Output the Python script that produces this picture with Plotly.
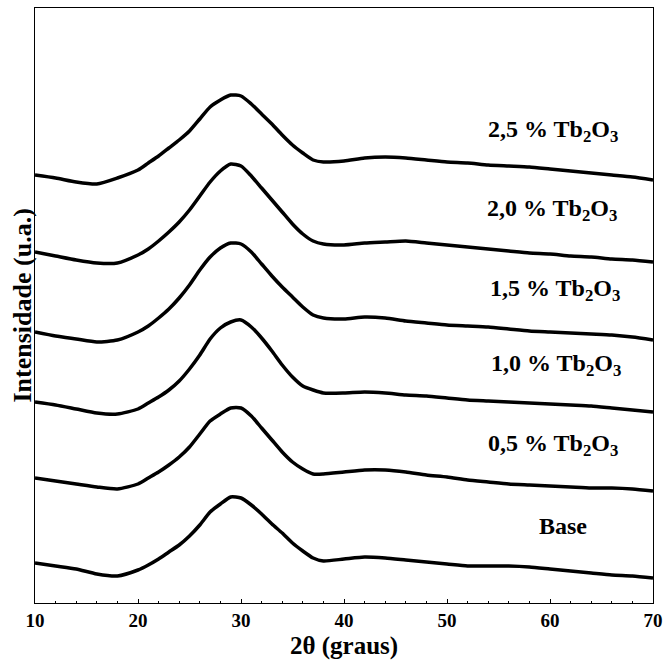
import plotly.graph_objects as go

# 2θ (degrees)
two_theta = [10, 12, 14, 16, 18, 20, 21, 22, 23, 24, 25, 26, 27, 28, 29, 30, 31, 32, 33, 34,
             35, 36, 37, 38, 40, 42, 44, 46, 48, 50, 52, 54, 56, 58, 60, 62, 64, 66, 68, 70]

# Stacked intensities (a.u., offsets included as drawn)
base = [40, 37, 34, 29, 27, 33, 38, 44, 51, 58, 67, 78, 91, 99, 106, 105, 98, 89, 79, 70,
        60, 52, 45, 42, 44, 46, 45, 43, 41, 39, 37, 37, 37, 36, 34, 32, 30, 28, 27, 25]
tb_05 = [125, 122, 119, 116, 114, 119, 125, 131, 138, 146, 156, 169, 182, 189, 195, 195, 187, 175, 163, 151,
         141, 134, 129, 129, 131, 133, 133, 131, 128, 126, 123, 121, 119, 118, 117, 116, 115, 115, 114, 112]
tb_10 = [201, 198, 194, 190, 189, 194, 200, 206, 213, 222, 234, 248, 264, 275, 281, 283, 276, 265, 252, 238,
         226, 217, 213, 210, 210, 211, 210, 208, 207, 205, 203, 202, 201, 200, 199, 198, 197, 195, 193, 191]
tb_15 = [271, 267, 264, 261, 263, 271, 277, 285, 294, 305, 318, 333, 346, 355, 360, 359, 351, 339, 327, 316,
         306, 296, 288, 285, 284, 286, 285, 282, 280, 278, 277, 276, 274, 272, 271, 270, 269, 268, 266, 263]
tb_20 = [351, 347, 343, 340, 340, 348, 354, 362, 371, 381, 393, 407, 421, 432, 439, 437, 427, 415, 403, 391,
         379, 369, 362, 359, 358, 360, 361, 362, 360, 358, 356, 354, 352, 350, 349, 347, 346, 344, 343, 341]
tb_25 = [428, 425, 421, 419, 425, 433, 440, 447, 455, 463, 472, 484, 496, 503, 508, 507, 499, 489, 479, 468,
         458, 450, 443, 441, 442, 445, 446, 445, 443, 441, 440, 438, 437, 436, 434, 432, 430, 428, 426, 423]

series = [base, tb_05, tb_10, tb_15, tb_20, tb_25]
labels = ["Base", "0,5 % Tb<sub>2</sub>O<sub>3</sub>", "1,0 % Tb<sub>2</sub>O<sub>3</sub>",
          "1,5 % Tb<sub>2</sub>O<sub>3</sub>", "2,0 % Tb<sub>2</sub>O<sub>3</sub>",
          "2,5 % Tb<sub>2</sub>O<sub>3</sub>"]
label_x = [61.3, 60.3, 60.6, 60.5, 60.2, 60.3]
label_y = [77, 158, 238, 313, 393, 472]

FONT = "Liberation Serif, Times New Roman, serif"

fig = go.Figure()
for s in series:
    fig.add_trace(go.Scatter(x=two_theta, y=s, mode="lines",
                             line=dict(color="black", width=3.5, shape="spline", smoothing=0.6),
                             showlegend=False, hoverinfo="skip"))

for t, lx, ly in zip(labels, label_x, label_y):
    fig.add_annotation(x=lx, y=ly, text=t, showarrow=False, xanchor="center", yanchor="middle",
                       font=dict(family=FONT, size=24, color="black", weight="bold"))

fig.add_annotation(x=0.5, y=-0.072, xref="paper", yref="paper", text="2θ (graus)",
                   showarrow=False, xanchor="center", yanchor="middle",
                   font=dict(family=FONT, size=25, color="black", weight="bold"))
fig.add_annotation(x=-0.021, y=0.5, xref="paper", yref="paper", text="Intensidade (u.a.)",
                   showarrow=False, xanchor="center", yanchor="middle", textangle=-90,
                   font=dict(family=FONT, size=26, color="black", weight="bold"))

fig.update_xaxes(range=[10, 70], tickmode="array", tickvals=[10, 20, 30, 40, 50, 60, 70],
                 ticks="inside", ticklen=4, tickwidth=1, tickcolor="black",
                 minor=dict(dtick=2, ticks="inside", ticklen=2, tickwidth=1, tickcolor="black"),
                 showline=True, linecolor="black", linewidth=1, mirror=True,
                 showgrid=False, zeroline=False, automargin=False,
                 tickfont=dict(family=FONT, size=19, color="black", weight="bold"))
fig.update_yaxes(range=[0, 595], showticklabels=False, ticks="", showline=True, linecolor="black",
                 linewidth=1, mirror=True, showgrid=False, zeroline=False, automargin=False)

fig.update_layout(width=665, height=660, margin=dict(l=35, r=12, t=8, b=57),
                  plot_bgcolor="white", paper_bgcolor="white")

fig.write_html("out.html", config={"displayModeBar": False},
               post_script="document.body.style.margin='0';document.body.style.overflow='hidden';")
